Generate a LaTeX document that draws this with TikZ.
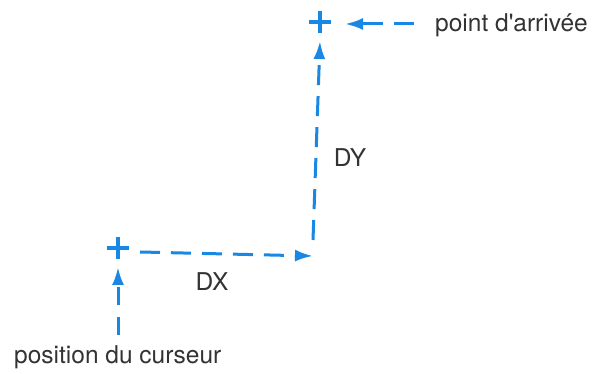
\documentclass[tikz,border=0pt]{standalone}
\usepackage{fontspec}
\setmainfont{TeX Gyre Heros}
\usetikzlibrary{arrows.meta}
\definecolor{cblue}{RGB}{25,135,228}
\begin{document}
\begin{tikzpicture}[x=1pt,y=1pt,
  conn/.style={cblue,line width=3pt,dash pattern=on 20pt off 11pt,-{Latex[length=18pt,width=12pt]}},
  plusmark/.style={cblue,line width=3.5pt},
  lbl/.style={font=\fontsize{24.5}{28}\selectfont,text=black!80,inner sep=0pt}]
\useasboundingbox (0,0) rectangle (594,374);
\fill[white] (0,0) rectangle (594,374);
% points
\coordinate (start) at (118,126);
\coordinate (corner) at (313,118);
\coordinate (endp) at (320,352);
\coordinate (hstart) at (140,122);
\coordinate (vtop) at (320,333);
\coordinate (lstart) at (414,350);
\coordinate (ltip) at (345,350);
\coordinate (bstart) at (118,39);
\coordinate (btip) at (118,107);
% plus marks
\draw[plusmark] ([xshift=-11pt]start) -- ([xshift=11pt]start);
\draw[plusmark] ([yshift=-11pt]start) -- ([yshift=11pt]start);
\draw[plusmark] ([xshift=-11pt]endp) -- ([xshift=11pt]endp);
\draw[plusmark] ([yshift=-11pt]endp) -- ([yshift=11pt]endp);
% connectors
\draw[conn] (hstart) -- (corner);
\draw[conn] ([yshift=16pt]corner) -- (vtop);
\draw[conn] (lstart) -- (ltip);
\draw[conn,dash pattern=on 18pt off 12pt] (bstart) -- (btip);
% labels
\node[lbl,anchor=base west] (arr) at (435,342) {point d\textquotesingle arrivée};
\node[lbl] (dx) at (212,92) {DX};
\node[lbl] (dy) at (350,216) {DY};
\node[lbl,anchor=base west] (cur) at (14,10) {position du curseur};
\end{tikzpicture}
\end{document}
